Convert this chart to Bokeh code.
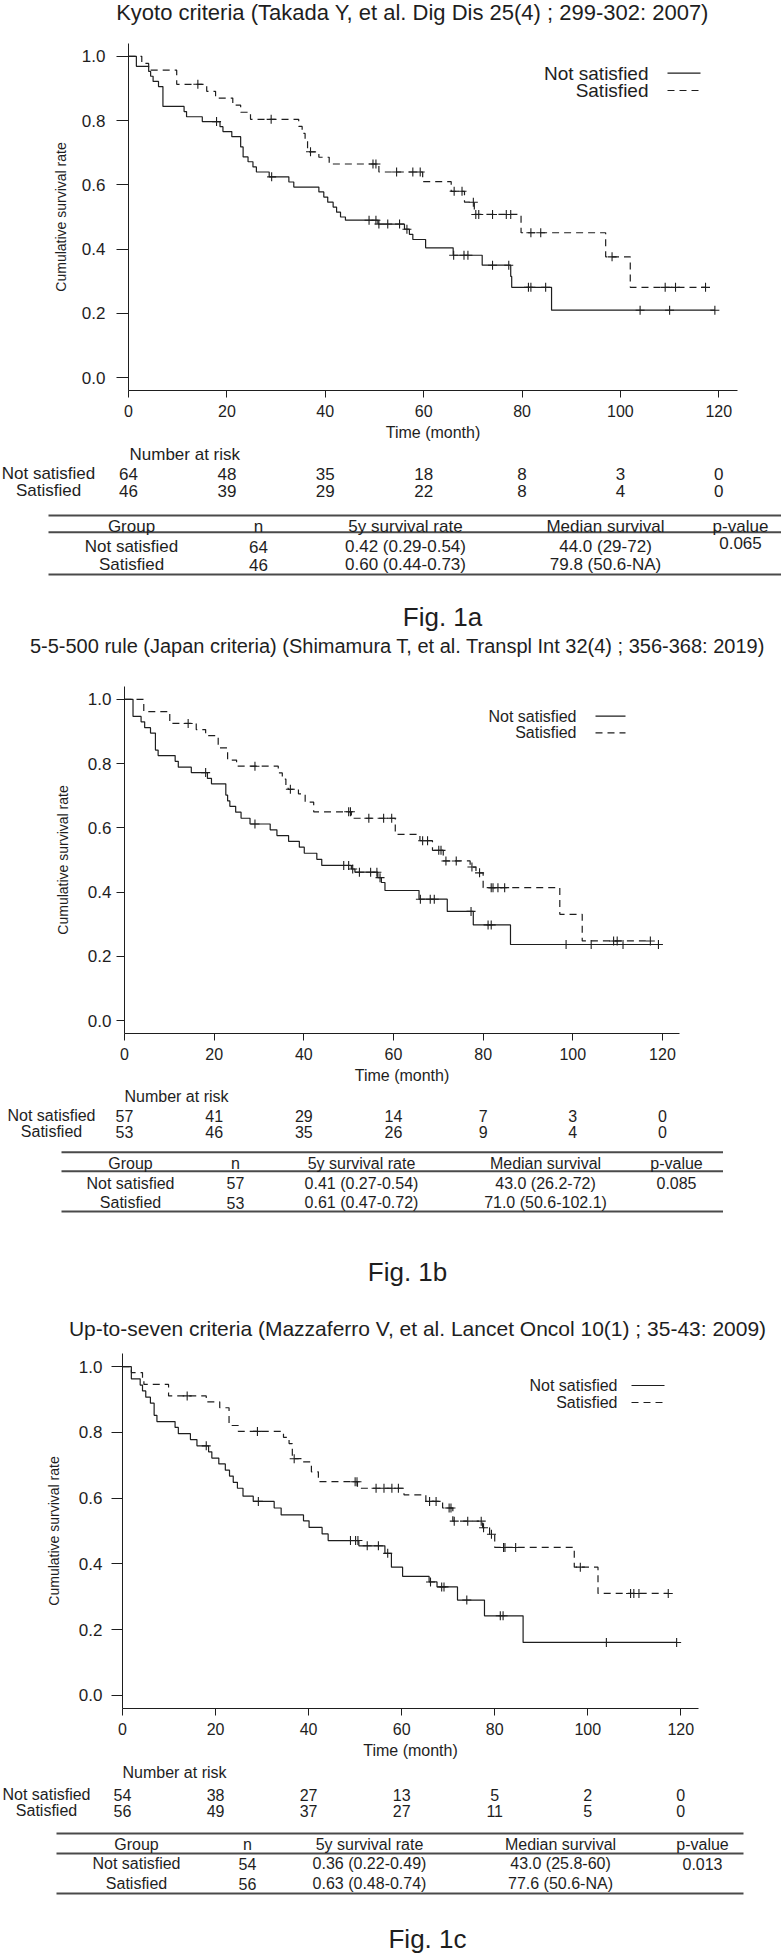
import numpy as np
from bokeh.plotting import figure
from bokeh.models import Range1d, FixedTicker, PrintfTickFormatter
from bokeh.embed import file_html
from bokeh.resources import INLINE
from bokeh.core.properties import value

FONT = "Liberation Sans"
INK = "#1e1e1e"

# ---------------------------------------------------------------- data
groups = ["Not satisfied", "Satisfied"]
x_ticks = [0, 20, 40, 60, 80, 100, 120]
y_ticks = [0.0, 0.2, 0.4, 0.6, 0.8, 1.0]
risk_times = [0, 20, 40, 60, 80, 100, 120]
table_header = ["Group", "n", "5y survival rate", "Median survival", "p-value"]

# Fig. 1a  Kyoto criteria
a_title = "Kyoto criteria (Takada Y, et al. Dig Dis 25(4) ; 299-302: 2007)"
a_ns_time = [0, 1.6, 4.1, 4.5, 5.0, 6.1, 7.0, 11.3, 11.8, 15.0, 18.6, 19.2, 21.0, 22.8, 23.3,
             24.3, 25.3, 26.0, 28.6, 32.6, 33.6, 38.7, 39.7, 40.5, 41.6, 42.3, 43.1, 44.1,
             50.7, 56.1, 57.1, 57.8, 60.4, 66.0, 71.9, 77.7, 77.9, 86.0]
a_ns_surv = [1.0, 0.969, 0.953, 0.938, 0.922, 0.906, 0.844, 0.828, 0.812, 0.797, 0.781, 0.766,
             0.750, 0.718, 0.687, 0.672, 0.656, 0.640, 0.625, 0.609, 0.593, 0.578, 0.562, 0.546,
             0.531, 0.515, 0.500, 0.490, 0.478, 0.462, 0.446, 0.430, 0.404, 0.381, 0.350, 0.315,
             0.281, 0.210]
a_ns_cens = [17.9, 29.1, 48.9, 50.3, 50.9, 52.7, 55.1, 56.6, 66.1, 68.2, 69.0, 74.0, 77.3, 81.3,
             81.8, 84.8, 104.0, 110.0, 119.2]
a_s_time = [0, 2.7, 4.1, 9.8, 15.9, 17.7, 21.2, 22.8, 24.8, 34.6, 35.3, 35.9, 36.4, 38.7, 40.8,
            50.9, 59.8, 65.6, 68.3, 70.3, 79.8, 97.0, 102.0]
a_s_surv = [1.0, 0.978, 0.957, 0.913, 0.891, 0.870, 0.848, 0.826, 0.804, 0.782, 0.760, 0.738,
            0.703, 0.686, 0.665, 0.640, 0.610, 0.580, 0.546, 0.508, 0.451, 0.376, 0.281]
a_s_cens = [14.1, 29.0, 37.0, 49.7, 50.3, 54.5, 57.8, 59.3, 66.2, 67.8, 70.1, 70.6, 71.2, 74.0,
            76.8, 77.7, 81.8, 83.8, 98.3, 109.1, 111.2, 117.3]
a_risk_ns = [64, 48, 35, 18, 8, 3, 0]
a_risk_s = [46, 39, 29, 22, 8, 4, 0]
a_rows = [["Not satisfied", "64", "0.42 (0.29-0.54)", "44.0 (29-72)", "0.065"],
          ["Satisfied", "46", "0.60 (0.44-0.73)", "79.8 (50.6-NA)", ""]]

# Fig. 1b  5-5-500 rule
b_title = "5-5-500 rule (Japan criteria) (Shimamura T, et al. Transpl Int 32(4) ; 356-368: 2019)"
b_ns_time = [0, 1.9, 3.7, 4.5, 5.8, 6.9, 7.5, 11.3, 12.0, 14.9, 18.5, 19.4, 22.6, 23.0, 23.5,
             24.8, 26.0, 28.0, 32.5, 34.0, 36.6, 39.0, 40.1, 42.9, 44.0, 50.6, 51.4, 56.5, 57.3,
             58.1, 65.7, 72.0, 77.8, 86.1]
b_ns_surv = [1.0, 0.947, 0.930, 0.912, 0.895, 0.842, 0.825, 0.807, 0.789, 0.772, 0.754, 0.737,
             0.702, 0.684, 0.667, 0.649, 0.630, 0.612, 0.594, 0.576, 0.558, 0.540, 0.521, 0.502,
             0.483, 0.472, 0.462, 0.445, 0.430, 0.405, 0.378, 0.340, 0.298, 0.237]
b_ns_cens = [18.1, 29.1, 48.9, 50.0, 50.9, 52.4, 54.9, 56.3, 57.0, 66.0, 68.2, 69.1, 77.3, 81.1,
             81.8, 98.5, 104.1, 111.2, 119.1]
b_s_time = [0, 4.3, 10.1, 16.0, 18.1, 20.9, 23.0, 25.0, 34.3, 35.2, 36.0, 36.5, 38.8, 40.3, 42.2,
            50.6, 60.4, 65.9, 68.7, 71.1, 77.1, 78.4, 80.0, 97.1, 102.1]
b_s_surv = [1.0, 0.962, 0.925, 0.906, 0.887, 0.849, 0.811, 0.792, 0.771, 0.752, 0.733, 0.720,
            0.706, 0.680, 0.650, 0.630, 0.580, 0.560, 0.530, 0.497, 0.478, 0.460, 0.414, 0.331,
            0.248]
b_s_cens = [14.2, 29.1, 37.0, 50.0, 50.4, 54.5, 57.8, 59.6, 66.5, 67.6, 70.1, 70.6, 71.7, 74.0,
            77.5, 79.2, 81.8, 82.2, 83.3, 84.8, 109.1, 109.9, 117.3]
b_risk_ns = [57, 41, 29, 14, 7, 3, 0]
b_risk_s = [53, 46, 35, 26, 9, 4, 0]
b_rows = [["Not satisfied", "57", "0.41 (0.27-0.54)", "43.0 (26.2-72)", "0.085"],
          ["Satisfied", "53", "0.61 (0.47-0.72)", "71.0 (50.6-102.1)", ""]]

# Fig. 1c  Up-to-seven criteria
c_title = "Up-to-seven criteria (Mazzaferro V, et al. Lancet Oncol 10(1) ; 35-43: 2009)"
c_ns_time = [0, 1.9, 3.8, 4.3, 5.0, 6.0, 6.8, 7.4, 11.3, 12.0, 14.6, 16.0, 18.5, 19.2, 20.7,
             22.1, 23.0, 23.8, 24.7, 25.9, 28.1, 32.6, 34.1, 38.9, 40.1, 42.9, 44.2, 50.8, 56.4,
             57.8, 60.2, 65.9, 67.6, 72.0, 77.8, 86.1]
c_ns_surv = [1.0, 0.963, 0.944, 0.926, 0.907, 0.889, 0.852, 0.833, 0.815, 0.796, 0.778, 0.759,
             0.741, 0.722, 0.704, 0.685, 0.667, 0.648, 0.630, 0.606, 0.590, 0.570, 0.549, 0.531,
             0.511, 0.491, 0.471, 0.455, 0.432, 0.390, 0.362, 0.345, 0.330, 0.290, 0.242, 0.161]
c_ns_cens = [18.0, 29.2, 49.0, 50.1, 50.6, 52.6, 55.0, 57.0, 66.2, 68.6, 69.1, 74.0, 81.2, 81.8,
             104.0, 119.1]
c_s_time = [0, 1.9, 4.3, 4.6, 9.9, 18.0, 20.9, 22.9, 24.9, 34.6, 35.8, 36.5, 38.5, 40.6, 42.1,
            50.5, 60.5, 65.2, 68.8, 71.0, 77.4, 78.9, 80.0, 97.1, 102.2]
c_s_surv = [1.0, 0.982, 0.964, 0.946, 0.911, 0.893, 0.875, 0.821, 0.803, 0.785, 0.766, 0.720,
            0.710, 0.680, 0.650, 0.630, 0.610, 0.590, 0.570, 0.530, 0.510, 0.490, 0.450, 0.390,
            0.310]
c_s_cens = [13.9, 29.0, 36.9, 50.0, 50.4, 54.5, 56.2, 57.9, 59.3, 66.0, 67.4, 70.2, 70.6, 71.3,
            74.2, 77.1, 77.6, 79.3, 81.9, 82.2, 84.5, 98.4, 109.2, 109.9, 111.0, 117.3]
c_risk_ns = [54, 38, 27, 13, 5, 2, 0]
c_risk_s = [56, 49, 37, 27, 11, 5, 0]
c_rows = [["Not satisfied", "54", "0.36 (0.22-0.49)", "43.0 (25.8-60)", "0.013"],
          ["Satisfied", "56", "0.63 (0.48-0.74)", "77.6 (50.6-NA)", ""]]

captions = ["Fig. 1a", "Fig. 1b", "Fig. 1c"]

PANELS = [
    dict(title=a_title, ns=(a_ns_time, a_ns_surv, a_ns_cens), s=(a_s_time, a_s_surv, a_s_cens),
         risk=(a_risk_ns, a_risk_s), rows=a_rows, caption=captions[0]),
    dict(title=b_title, ns=(b_ns_time, b_ns_surv, b_ns_cens), s=(b_s_time, b_s_surv, b_s_cens),
         risk=(b_risk_ns, b_risk_s), rows=b_rows, caption=captions[1]),
    dict(title=c_title, ns=(c_ns_time, c_ns_surv, c_ns_cens), s=(c_s_time, c_s_surv, c_s_cens),
         risk=(c_risk_ns, c_risk_s), rows=c_rows, caption=captions[2]),
]

# ---------------------------------------------------------------- layout (page pixels)
W = 781
PX0, PX1 = 0, W
X_LO, X_HI = 0.0, 123.8
Y_LO, Y_HI = -0.04, 1.04

HEAD = dict(span=(0, 40), title_xy=(412, 12), title_size="22px")
LAYOUT = [
    dict(km=(40, 445), frame=(128, 737, 43, 390), ytick=12, ystd=11, ylab=10,
         leg=dict(right=648, ys=(72.7, 90), line=(667, 700), size="19px"), tsize="17px",
         txt=(445, 668), nar=(129, 454), risk_y=(473.3, 490), rowlab_x=48,
         tab_x=(48, 781), lines=(515, 531.7, 574), head_y=526, row_y=(546, 564.3), p_y=542,
         cols=[131, 258, 405, 605, 740], cap=(442, 616.7), next_title=(397, 645, "20px")),
    dict(km=(668, 1088), frame=(124, 679, 686, 1033), ytick=8, ystd=5, ylab=14,
         leg=dict(right=576, ys=(715.7, 732.3), line=(595, 625), size="16px"), tsize="16px",
         txt=(1088, 1342), nar=(124, 1096), risk_y=(1115, 1131), rowlab_x=51,
         tab_x=(61, 722.5), lines=(1151.7, 1170.7, 1211), head_y=1163, row_y=(1182.7, 1202),
         p_y=1182.7, cols=[130, 235, 361, 545, 676], cap=(407, 1271.7),
         next_title=(417, 1328, "21px")),
    dict(km=(1342, 1764), frame=(122, 698, 1353, 1708), ytick=11, ystd=9, ylab=14,
         leg=dict(right=617, ys=(1385, 1402), line=(631, 664), size="16px"), tsize="16px",
         txt=(1764, 1953), nar=(122, 1772), risk_y=(1794, 1810), rowlab_x=46,
         tab_x=(56, 743), lines=(1833, 1853, 1893), head_y=1844, row_y=(1863, 1883),
         p_y=1863, cols=[136, 247, 369, 560, 702], cap=(427, 1938), next_title=None),
]


def surv_at(times, surv, t):
    idx = np.searchsorted(np.asarray(times), np.asarray(t), side="right") - 1
    return np.asarray(surv)[idx]


def put(p, x, y, txt, size, align="center", rng="default"):
    if not isinstance(x, (list, tuple)):
        x, y, txt = [x], [y], [txt]
    p.text(x=list(x), y=list(y), text=list(txt), text_align=align, text_baseline="middle",
           text_font=value(FONT), text_font_size=size, text_color=INK, x_range_name=rng)


def text_figure(top, bottom, frame=None):
    p = figure(width=W, height=bottom - top, output_backend="svg", toolbar_location=None,
               x_range=Range1d(PX0, PX1), y_range=Range1d(bottom, top),
               x_axis_type=None, y_axis_type=None, min_border=0, outline_line_color=None)
    p.min_border_left = p.min_border_right = p.min_border_top = p.min_border_bottom = 0
    if frame is not None:
        L, R = frame[0], frame[1]
        k = (X_HI - X_LO) / (R - L)
        p.extra_x_ranges = {"t": Range1d(X_LO + (PX0 - L) * k, X_LO + (PX1 - L) * k)}
    return p


def km_figure(d, lay):
    top, bottom = lay["km"]
    L, R, T, B = lay["frame"]
    p = figure(width=W, height=bottom - top, output_backend="svg", toolbar_location=None,
               x_range=Range1d(X_LO, X_HI), y_range=Range1d(Y_LO, Y_HI),
               min_border_left=L - PX0, min_border_right=PX1 - R,
               min_border_top=T - top, min_border_bottom=bottom - B)
    p.outline_line_color = None
    p.xgrid.visible = False
    p.ygrid.visible = False
    xa, ya = p.xaxis[0], p.yaxis[0]
    xa.ticker = FixedTicker(ticks=x_ticks)
    ya.ticker = FixedTicker(ticks=y_ticks)
    ya.formatter = PrintfTickFormatter(format="%.1f")
    for ax in (xa, ya):
        ax.axis_line_color = INK
        ax.major_tick_line_color = INK
        ax.major_tick_in = 0
        ax.minor_tick_in = 0
        ax.minor_tick_out = 0
        ax.major_label_text_font = FONT
        ax.major_label_text_color = INK
        ax.axis_label_text_font = FONT
        ax.axis_label_text_font_style = "normal"
        ax.axis_label_text_color = INK
    xa.major_label_text_font_size = "16px"
    ya.major_label_text_font_size = "17px"
    xa.major_tick_out = 7
    xa.major_label_standoff = 7
    xa.axis_label = "Time (month)"
    xa.axis_label_text_font_size = "16px"
    xa.axis_label_standoff = 4
    ya.major_tick_out = lay["ytick"]
    ya.major_label_standoff = lay["ystd"]
    ya.axis_label = "Cumulative survival rate"
    ya.axis_label_text_font_size = "14px"
    ya.axis_label_standoff = lay["ylab"]

    for (times, surv, cens), dash in ((d["ns"], "solid"), (d["s"], "7 5")):
        xs = list(times) + [max(cens)]
        ys = list(surv) + [surv[-1]]
        p.step(xs, ys, mode="after", line_color=INK, line_width=1.2, line_dash=dash)
        p.scatter(cens, surv_at(times, surv, cens), marker="cross", size=9,
                  line_color=INK, line_width=1.1)

    # legend (R style: label then line sample)
    def tx(px):
        return X_LO + (px - L) / (R - L) * (X_HI - X_LO)

    def ty(py):
        return Y_HI - (py - T) / (B - T) * (Y_HI - Y_LO)

    lg = lay["leg"]
    y1, y2 = ty(lg["ys"][0]), ty(lg["ys"][1])
    p.text(x=[tx(lg["right"])] * 2, y=[y1, y2], text=groups, text_align="right",
           text_baseline="middle", text_font=value(FONT), text_font_size=lg["size"],
           text_color=INK)
    x0, x1 = tx(lg["line"][0]), tx(lg["line"][1])
    p.segment(x0=[x0], y0=[y1], x1=[x1], y1=[y1], line_color=INK, line_width=1.2)
    p.segment(x0=[x0], y0=[y2], x1=[x1], y1=[y2], line_color=INK, line_width=1.2,
              line_dash="7 5")
    return p


def lower_figure(d, lay):
    top, bottom = lay["txt"]
    ts = lay["tsize"]
    p = text_figure(top, bottom, lay["frame"])
    put(p, lay["nar"][0], lay["nar"][1], "Number at risk", ts, align="left")
    for g, vals, yy in zip(groups, d["risk"], lay["risk_y"]):
        put(p, lay["rowlab_x"], yy, g, ts)
        put(p, list(risk_times), [yy] * len(vals), [str(v) for v in vals], ts, rng="t")
    xa, xb = lay["tab_x"]
    ls = lay["lines"]
    p.segment(x0=[xa] * 3, y0=list(ls), x1=[xb] * 3, y1=list(ls), line_color="#4a4a4a",
              line_width=2)
    put(p, lay["cols"], [lay["head_y"]] * 5, table_header, ts)
    for row, yy in zip(d["rows"], lay["row_y"]):
        put(p, lay["cols"][:4], [yy] * 4, row[:4], ts)
        if row[4]:
            put(p, lay["cols"][4], lay["p_y"], row[4], ts)
    put(p, lay["cap"][0], lay["cap"][1], d["caption"], "26px")
    return p


figs = []
head = text_figure(*HEAD["span"])
put(head, HEAD["title_xy"][0], HEAD["title_xy"][1], PANELS[0]["title"], HEAD["title_size"])
figs.append(head)
for i, (d, lay) in enumerate(zip(PANELS, LAYOUT)):
    figs.append(km_figure(d, lay))
    low = lower_figure(d, lay)
    if lay["next_title"] is not None:
        nx, ny, ns = lay["next_title"]
        put(low, nx, ny, PANELS[i + 1]["title"], ns)
    figs.append(low)

# independent roots (stacked blocks) so Bokeh does not align their frames
open("out.html", "w").write(file_html(figs, INLINE, title="Kaplan-Meier curves"))
